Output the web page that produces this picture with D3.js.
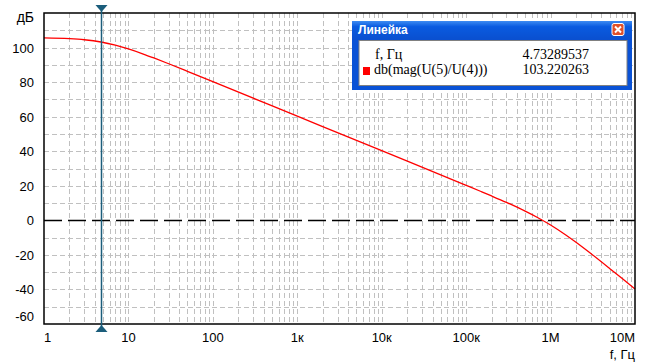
<!DOCTYPE html>
<html lang="ru">
<head>
<meta charset="UTF-8">
<title>АЧХ</title>
<script src="https://d3js.org/d3.v7.min.js"></script>
<style>
    body { margin: 0; background: white; }
    .tick-label { font-family: "Liberation Sans", Arial, sans-serif; font-size: 13px; fill: black; }
    .grid { stroke: #c0c0c0; stroke-width: 1px; stroke-dasharray: 5,3; shape-rendering: crispEdges; }
    .legend-text { font-family: "Liberation Serif", "Times New Roman", serif; font-size: 14px; fill: black; }
</style>
</head>
<body>
<svg id="chart" width="645" height="363"></svg>
<script>
    const width = 645;
    const height = 363;

    // frequency response
    const freq = [1, 2, 3, 4.733, 7, 10, 15, 20, 30, 50, 100, 1e3, 1e4, 1e5, 1.5e5, 2e5, 3e5, 5e5, 7e5, 1e6, 1.5e6, 2e6, 3e6, 5e6, 7e6, 1e7];
    const gainDb = [105.55, 105.14, 104.52, 103.22, 101.39, 99.2, 96.26, 93.98, 90.62, 86.27, 80.29, 60.3, 40.3, 20.26, 16.68, 14.11, 10.39, 5.35, 1.67, -2.71, -8.34, -12.71, -19.24, -27.83, -33.59, -39.74];

    const xTicks = [1, 10, 100, 1e3, 1e4, 1e5, 1e6, 1e7];
    const xTickLabels = ["1", "10", "100", "1к", "10к", "100к", "1M", "10M"];
    const yTicks = [100, 80, 60, 40, 20, 0, -20, -40, -60];

    const cursorFreq = 4.73289537;
    const cursorValue = 103.220263;

    const margin = {left: 44, right: 10, top: 13, bottom: 39};
    const x = d3.scaleLog().domain([1, 1e7]).range([margin.left, width - margin.right]);
    const y = d3.scaleLinear().domain([-60, 120]).range([height - margin.bottom, margin.top]);

    const svg = d3.select("#chart");

    // vertical grid: decades plus 2..9 minor
    const vGrid = [];
    for (let d = 0; d < 7; d++) {
      for (let m = 1; m <= 9; m++) {
        const v = m * Math.pow(10, d);
        if (v > 1) vGrid.push(v);
      }
    }
    svg.selectAll(".vgrid")
      .data(vGrid.filter(v => v < 1e7))
      .enter()
      .append("line")
      .attr("class", "grid")
      .attr("x1", d => Math.round(x(d)) + 0.5)
      .attr("x2", d => Math.round(x(d)) + 0.5)
      .attr("y1", y(120))
      .attr("y2", y(-60));

    svg.selectAll(".hgrid")
      .data(d3.range(-50, 120, 10).filter(v => v !== 0))
      .enter()
      .append("line")
      .attr("class", "grid")
      .attr("x1", x(1))
      .attr("x2", x(1e7))
      .attr("y1", d => Math.round(y(d)) + 0.5)
      .attr("y2", d => Math.round(y(d)) + 0.5);

    // zero line
    svg.append("line")
      .attr("x1", x(1))
      .attr("x2", x(1e7))
      .attr("y1", Math.round(y(0)) + 0.5)
      .attr("y2", Math.round(y(0)) + 0.5)
      .attr("stroke", "black")
      .attr("stroke-width", 1.5)
      .attr("stroke-dasharray", "18,6");

    // curve
    const pts = freq.map((f, i) => [f, gainDb[i]]);
    svg.append("path")
      .datum(pts)
      .attr("fill", "none")
      .attr("stroke", "#ff0000")
      .attr("stroke-width", 1.3)
      .attr("d", d3.line().x(d => x(d[0])).y(d => y(d[1])).curve(d3.curveMonotoneX));

    // frame
    svg.append("rect")
      .attr("x", x(1))
      .attr("y", y(120))
      .attr("width", x(1e7) - x(1))
      .attr("height", y(-60) - y(120))
      .attr("fill", "none")
      .attr("stroke", "black")
      .attr("stroke-width", 1.5);

    // cursor
    const cx = Math.round(x(cursorFreq)) + 0.5;
    const cursorColor = "#1b5d7b";
    svg.append("line")
      .attr("x1", cx).attr("x2", cx)
      .attr("y1", y(120) - 2).attr("y2", y(-60) + 2)
      .attr("stroke", cursorColor)
      .attr("stroke-width", 1.5);
    svg.append("path")
      .attr("d", `M${cx - 6},${y(120) - 8}L${cx + 6},${y(120) - 8}L${cx},${y(120) - 1}Z`)
      .attr("fill", cursorColor);
    svg.append("path")
      .attr("d", `M${cx - 6},${y(-60) + 8}L${cx + 6},${y(-60) + 8}L${cx},${y(-60) + 1}Z`)
      .attr("fill", cursorColor);

    // y labels
    svg.selectAll(".ylab")
      .data(yTicks)
      .enter()
      .append("text")
      .attr("class", "tick-label")
      .attr("x", 34)
      .attr("y", d => (d === -60 ? y(d) - 8 : y(d)) + 5)
      .attr("text-anchor", "end")
      .text(d => d);
    svg.append("text")
      .attr("class", "tick-label")
      .attr("x", 34)
      .attr("y", 22)
      .attr("text-anchor", "end")
      .style("font-size", "14px")
      .text("дБ");

    // x labels
    svg.selectAll(".xlab")
      .data(xTicks)
      .enter()
      .append("text")
      .attr("class", "tick-label")
      .attr("x", d => x(d))
      .attr("y", 342)
      .attr("text-anchor", (d, i) => i === 0 ? "start" : (i === xTicks.length - 1 ? "end" : "middle"))
      .text((d, i) => xTickLabels[i]);
    svg.append("text")
      .attr("class", "tick-label")
      .attr("x", x(1e7))
      .attr("y", 359)
      .attr("text-anchor", "end")
      .text("f, Гц");

    // ruler window
    const win = svg.append("g").attr("transform", "translate(352,21)");
    const grad = svg.append("defs").append("linearGradient")
      .attr("id", "titlebar").attr("x1", 0).attr("y1", 0).attr("x2", 0).attr("y2", 1);
    grad.append("stop").attr("offset", "0%").attr("stop-color", "#3d8bf2");
    grad.append("stop").attr("offset", "30%").attr("stop-color", "#0a5be0");
    grad.append("stop").attr("offset", "100%").attr("stop-color", "#0a4fcf");
    win.append("rect")
      .attr("x", 0).attr("y", 0).attr("width", 280).attr("height", 69)
      .attr("fill", "#0a52d6");
    win.append("rect")
      .attr("x", 0).attr("y", 0).attr("width", 280).attr("height", 19)
      .attr("fill", "url(#titlebar)");
    win.append("text")
      .attr("x", 6).attr("y", 13)
      .attr("fill", "white")
      .style("font-family", "'Liberation Sans', Arial, sans-serif")
      .style("font-size", "12px")
      .style("font-weight", "bold")
      .text("Линейка");
    // close button
    win.append("rect")
      .attr("x", 260).attr("y", 2.5).attr("width", 12).attr("height", 12).attr("rx", 2)
      .attr("fill", "#e0502a").attr("stroke", "white").attr("stroke-width", 1);
    win.append("path")
      .attr("d", "M263,5.5L269,11.5M269,5.5L263,11.5")
      .attr("stroke", "white").attr("stroke-width", 2);
    // client area
    win.append("rect")
      .attr("x", 7).attr("y", 19.5).attr("width", 268).attr("height", 45)
      .attr("fill", "white")
      .attr("stroke", "#808080");
    win.append("text").attr("class", "legend-text")
      .attr("x", 23).attr("y", 38).text("f, Гц");
    win.append("text").attr("class", "legend-text")
      .attr("x", 237).attr("y", 38).attr("text-anchor", "end").text(cursorFreq.toFixed(8));
    win.append("rect")
      .attr("x", 11).attr("y", 46).attr("width", 7).attr("height", 8)
      .attr("fill", "#ff0000");
    win.append("text").attr("class", "legend-text")
      .attr("x", 22).attr("y", 53).text("db(mag(U(5)/U(4)))");
    win.append("text").attr("class", "legend-text")
      .attr("x", 237).attr("y", 53).attr("text-anchor", "end").text(cursorValue.toFixed(6));
</script>
</body>
</html>
